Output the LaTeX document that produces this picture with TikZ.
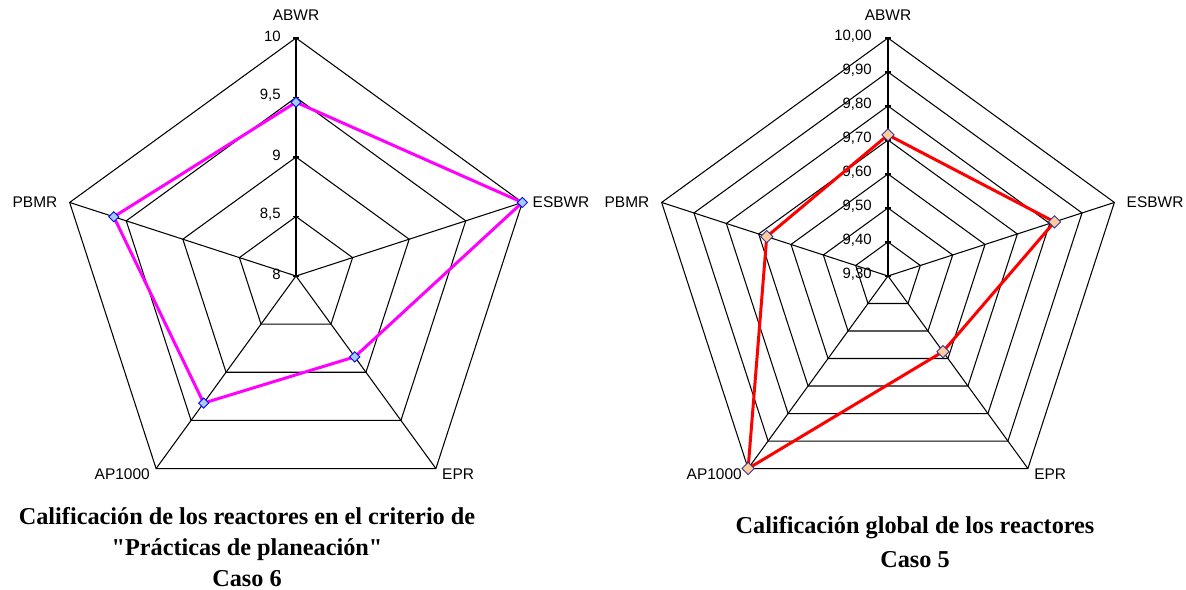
\documentclass[tikz,border=0pt]{standalone}
\usepackage{fontspec}
\setmainfont{Liberation Serif}
\setsansfont{Liberation Sans}
\usetikzlibrary{shapes.geometric}

\definecolor{linemagenta}{HTML}{FF00FF}
\definecolor{linered}{HTML}{FF0000}
\definecolor{markblue}{HTML}{A6CAF0}
\definecolor{markpeach}{HTML}{FFCC99}
\definecolor{marknavy}{HTML}{333399}

\tikzset{
  gridline/.style={black, line width=0.6pt},
  axislabel/.style={font=\sffamily\fontsize{8.8}{10}\selectfont, inner sep=0pt},
  ticklabel/.style={font=\sffamily\fontsize{8.5}{10}\selectfont, anchor=east, inner sep=0pt},
  titletext/.style={font=\bfseries\fontsize{13.8}{16}\selectfont, anchor=base, inner sep=0pt},
  lineA/.style={draw=linemagenta, line width=1.7pt, line join=round},
  lineB/.style={draw=linered, line width=1.7pt, line join=round},
  markA/.style={diamond, draw=blue, fill=markblue, line width=0.5pt, minimum size=0.21cm, inner sep=0pt},
  markB/.style={diamond, draw=marknavy, fill=markpeach, line width=0.5pt, minimum size=0.25cm, inner sep=0pt}
}

\begin{document}
\begin{tikzpicture}[x=0.02cm,y=0.02cm]
\useasboundingbox (0,0) rectangle (1186,-590);

% left chart: practicas de planeacion
\begin{scope}[shift={(296,-276)}]
\foreach \i in {1,...,4}
  \draw[gridline] (90:\i*59.5) -- (18:\i*59.5) -- (-54:\i*59.5) -- (-126:\i*59.5) -- (162:\i*59.5) -- cycle;
\foreach \a/\n in {90/ABWR,18/ESBWR,-54/EPR,-126/AP1000,162/PBMR}
  \draw[gridline] (0,0) -- (\a:238) coordinate (l\n);
\foreach \i/\t in {0/8,1/{8,5},2/9,3/{9,5},4/10} {
  \draw[gridline] (-3,\i*59.5) -- (3,\i*59.5);
  \node[ticklabel] (lt\i) at (-15,\i*59.5+2) {\t};
}

\node[axislabel, anchor=south, yshift=3.5mm] (lnABWR) at (lABWR) {ABWR};
\node[axislabel, anchor=west, xshift=2mm] (lnESBWR) at (lESBWR) {ESBWR};
\node[axislabel, anchor=north west, xshift=1.2mm] (lnEPR) at (lEPR) {EPR};
\node[axislabel, anchor=north east, xshift=-1.2mm] (lnAP1000) at (lAP1000) {AP1000};
\node[axislabel, anchor=east, xshift=-2.4mm] (lnPBMR) at (lPBMR) {PBMR};

% data
\foreach \a/\v/\n in {90/9.46/A,18/10/B,-54/8.84/C,-126/9.32/D,162/9.61/E}
  \coordinate (lp\n) at (\a:{(\v-8)*119});
\draw[lineA] (lpA) -- (lpB) -- (lpC) -- (lpD) -- (lpE) -- cycle;
\foreach \n in {A,...,E}
  \node[markA] (lm\n) at (lp\n) {};
\end{scope}

% right chart: calificacion global
\begin{scope}[shift={(888,-276)}]
\foreach \i in {1,...,7}
  \draw[gridline] (90:\i*34) -- (18:\i*34) -- (-54:\i*34) -- (-126:\i*34) -- (162:\i*34) -- cycle;
\foreach \a/\n in {90/ABWR,18/ESBWR,-54/EPR,-126/AP1000,162/PBMR}
  \draw[gridline] (0,0) -- (\a:238) coordinate (r\n);
\foreach \i/\t in {0/{9,30},1/{9,40},2/{9,50},3/{9,60},4/{9,70},5/{9,80},6/{9,90},7/{10,00}} {
  \draw[gridline] (-3,\i*34) -- (3,\i*34);
  \node[ticklabel] (rt\i) at (-16,\i*34+2) {\t};
}

\node[axislabel, anchor=south, yshift=3.5mm] (rnABWR) at (rABWR) {ABWR};
\node[axislabel, anchor=west, xshift=2.4mm] (rnESBWR) at (rESBWR) {ESBWR};
\node[axislabel, anchor=north west, xshift=1.2mm] (rnEPR) at (rEPR) {EPR};
\node[axislabel, anchor=north east, xshift=-1.2mm] (rnAP1000) at (rAP1000) {AP1000};
\node[axislabel, anchor=east, xshift=-2.4mm] (rnPBMR) at (rPBMR) {PBMR};

% data
\foreach \a/\v/\n in {90/9.715/A,18/9.815/B,-54/9.575/C,-126/10/D,162/9.675/E}
  \coordinate (rp\n) at (\a:{(\v-9.3)*340});
\draw[lineB] (rpA) -- (rpB) -- (rpC) -- (rpD) -- (rpE) -- cycle;
\foreach \n in {A,...,E}
  \node[markB] (rm\n) at (rp\n) {};
\end{scope}

% titles
\node[titletext] (ltitle1) at (247,-525) {Calificación de los reactores en el criterio de};
\node[titletext] (ltitle2) at (247,-556) {\textquotedbl Prácticas de planeación\textquotedbl};
\node[titletext] (ltitle3) at (247,-586) {Caso 6};
\node[titletext] (rtitle1) at (915,-534) {Calificación global de los reactores};
\node[titletext] (rtitle2) at (915,-567) {Caso 5};
\end{tikzpicture}
\end{document}
